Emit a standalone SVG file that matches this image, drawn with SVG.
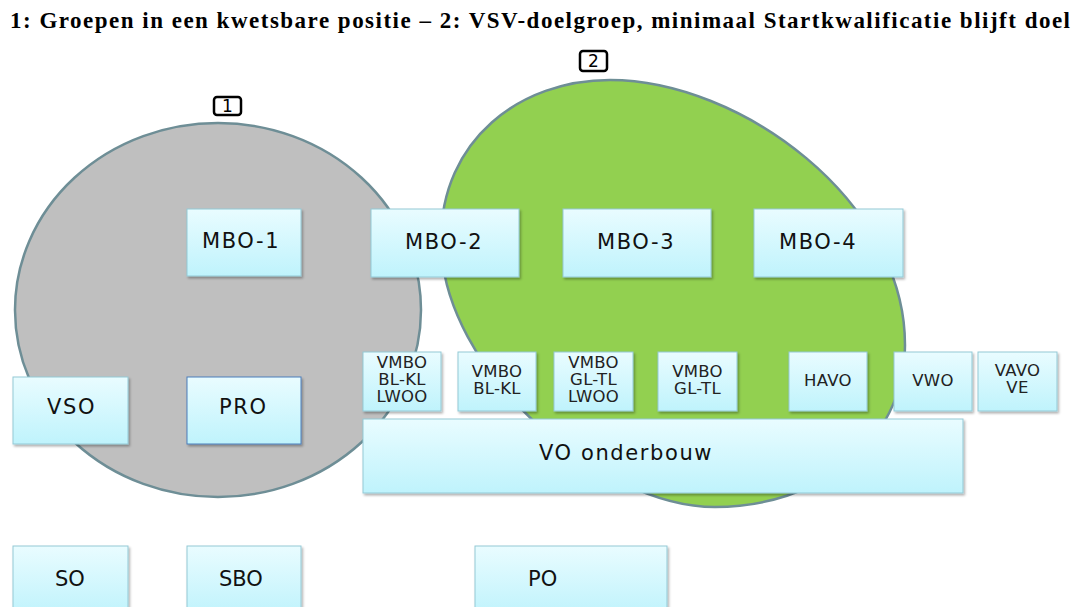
<svg xmlns="http://www.w3.org/2000/svg" width="1075" height="607" viewBox="0 0 1075 607">
<defs>
<linearGradient id="bg" x1="0" y1="0" x2="0" y2="1">
<stop offset="0" stop-color="#e9fcff"/>
<stop offset="1" stop-color="#bff3fc"/>
</linearGradient>
<filter id="sh" x="-10%" y="-10%" width="125%" height="130%">
<feDropShadow dx="1.5" dy="2" stdDeviation="1.2" flood-color="#000" flood-opacity="0.3"/>
</filter>
</defs>
<style>
.box{fill:url(#bg);stroke:#93c9d6;stroke-width:1;filter:url(#sh)}
.big{font-family:"DejaVu Sans",Verdana,sans-serif;font-size:21px;letter-spacing:1.6px;fill:#111}
.sm{font-family:"DejaVu Sans",Verdana,sans-serif;font-size:16.5px;letter-spacing:0.3px;fill:#222;text-anchor:middle}
.low{font-family:"DejaVu Sans",Tahoma,sans-serif;font-size:21px;fill:#111}
.tag{fill:#fff;stroke:#000;stroke-width:2.5}
.tagt{font-family:"DejaVu Sans",sans-serif;font-size:17px;text-anchor:middle;fill:#000}
</style>
<text x="10" y="28" font-family="'Liberation Serif','Book Antiqua',serif" font-weight="bold" font-size="23" textLength="1060" lengthAdjust="spacing" fill="#000">1: Groepen in een kwetsbare positie – 2: VSV-doelgroep, minimaal Startkwalificatie blijft doel</text>
<g id="area1">
<ellipse cx="218" cy="310" rx="203" ry="187" fill="#bfbfbf" stroke="#6e8e96" stroke-width="2.5"/>
<rect class="tag" x="214" y="97" width="27" height="18" rx="3"/>
<text class="tagt" x="227.5" y="112">1</text>
</g>
<g id="area2">
<path d="M610,80 C740,80 905,200 905,345 C905,445 815,507 715,507 C600,507 441,370 441,240 C441,140 520,80 610,80 Z" fill="#92d050" stroke="#6e8e96" stroke-width="2.5"/>
<rect class="tag" x="580" y="51" width="27" height="20" rx="3"/>
<text class="tagt" x="593.5" y="67">2</text>
</g>
<g id="connectors"></g>
<g id="mbo1"><rect class="box" x="187" y="209" width="114" height="67"/><text class="big" x="202" y="248">MBO-1</text></g>
<g id="mbo2"><rect class="box" x="371" y="209" width="148" height="68"/><text class="big" x="405" y="249">MBO-2</text></g>
<g id="mbo3"><rect class="box" x="563" y="209" width="148" height="68"/><text class="big" x="597" y="249">MBO-3</text></g>
<g id="mbo4"><rect class="box" x="754" y="209" width="149" height="68"/><text class="big" x="779" y="249">MBO-4</text></g>
<g id="vmbo1"><rect class="box" x="363" y="352" width="78" height="59"/><text class="sm" x="402" y="368">VMBO</text><text class="sm" x="402" y="385">BL-KL</text><text class="sm" x="402" y="402">LWOO</text></g>
<g id="vmbo2"><rect class="box" x="458" y="352" width="78" height="59"/><text class="sm" x="497" y="377">VMBO</text><text class="sm" x="497" y="394">BL-KL</text></g>
<g id="vmbo3"><rect class="box" x="554" y="352" width="79" height="59"/><text class="sm" x="593.5" y="368">VMBO</text><text class="sm" x="593.5" y="385">GL-TL</text><text class="sm" x="593.5" y="402">LWOO</text></g>
<g id="vmbo4"><rect class="box" x="658" y="352" width="79" height="59"/><text class="sm" x="697.5" y="377">VMBO</text><text class="sm" x="697.5" y="394">GL-TL</text></g>
<g id="havo"><rect class="box" x="789" y="352" width="78" height="59"/><text class="sm" x="828" y="386">HAVO</text></g>
<g id="vwo"><rect class="box" x="894" y="352" width="78" height="59"/><text class="sm" x="933" y="386">VWO</text></g>
<g id="vavo"><rect class="box" x="978" y="352" width="79" height="59"/><text class="sm" x="1017.5" y="376">VAVO</text><text class="sm" x="1017.5" y="393">VE</text></g>
<g id="vo"><rect class="box" x="363" y="419" width="600" height="74"/><text class="big" x="539" y="460">VO onderbouw</text></g>
<g id="vso"><rect class="box" x="13" y="377" width="115" height="67"/><text class="big" x="47" y="414">VSO</text></g>
<g id="pro"><rect class="box" x="187" y="377" width="114" height="67" style="stroke:#4a7ebb"/><text class="big" x="219" y="414">PRO</text></g>
<g id="so"><rect class="box" x="13" y="546" width="115" height="70"/><text class="low" x="55" y="586">SO</text></g>
<g id="sbo"><rect class="box" x="187" y="546" width="114" height="70"/><text class="low" x="219" y="586">SBO</text></g>
<g id="po"><rect class="box" x="475" y="546" width="192" height="70"/><text class="low" x="528" y="586">PO</text></g>
</svg>
